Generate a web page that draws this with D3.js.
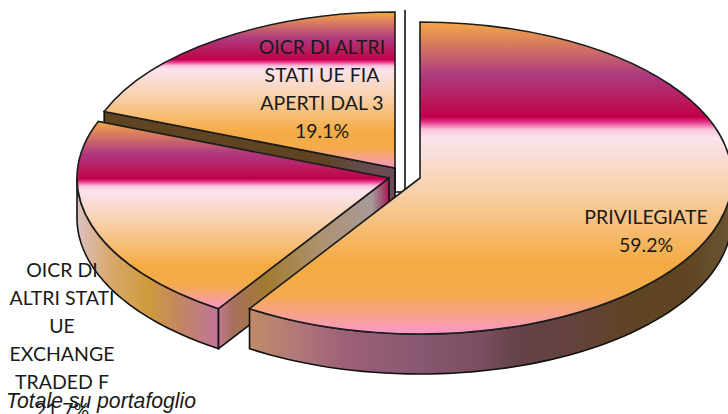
<!DOCTYPE html>
<html>
<head>
<meta charset="utf-8">
<script src="https://cdn.jsdelivr.net/npm/d3@7"></script>
<style>
  html, body { margin: 0; padding: 0; background: #fff; overflow: hidden; }
  svg { display: block; }
  .lbl { font-family: Lato, sans-serif; font-size: 19.5px; fill: #1a1a1a; text-anchor: middle; }
  .note { font-family: "Liberation Sans", Arial, sans-serif; font-style: italic; font-size: 21.2px; fill: #1a1a1a; }
</style>
</head>
<body>
<div id="viz"></div>
<script>
// values, clockwise from 12 o'clock
const categories = ['PRIVILEGIATE', 'OICR DI ALTRI STATI UE EXCHANGE TRADED F', 'OICR DI ALTRI STATI UE FIA APERTI DAL 3'];
const shares = [59.2, 21.7, 19.1];
const labelLines = [
  ['PRIVILEGIATE'],
  ['OICR DI', 'ALTRI STATI', 'UE', 'EXCHANGE', 'TRADED F'],
  ['OICR DI ALTRI', 'STATI UE FIA', 'APERTI DAL 3']
];
const footnote = 'Totale su portafoglio';

const width = 728;
const height = 414;
const rx = 312;
const ry = 156;
const depth = 40;
const lineH = 27.9;

// where each exploded slice sits + where its label goes
const centers = [{x: 420, y: 178}, {x: 389, y: 178}, {x: 395, y: 168}];
const labelPos = [{x: 646, y: 224}, {x: 62, y: 277}, {x: 322, y: 54}];

const topStops = [
  [0, '#f4a946'], [0.17, '#ad3a80'], [0.24, '#b81f62'], [0.305, '#c00048'], [0.32, '#e83088'],
  [0.345, '#fbc4de'], [0.37, '#fae4ee'], [0.55, '#f8cfa6'], [0.77, '#f4ab44'], [0.87, '#f4ab4a'], [1, '#f998c8']
];
const mainWallStops = [
  [0, '#c08a68'], [0.1, '#b07878'], [0.2, '#9c6078'], [0.35, '#885870'], [0.48, '#7a4e60'],
  [0.56, '#634248'], [0.66, '#654240'], [0.8, '#5e4422'], [0.9, '#5e4420'], [1, '#6c5434']
];
const leftWallStops = [
  [0, '#dcc0c4'], [0.22, '#d8aa70'], [0.5, '#cf9a3c'], [0.75, '#c28468'], [1, '#c07498']
];
const cutWallStops = [
  [0, '#c07a90'], [0.08, '#a87060'], [0.28, '#a27a30'], [0.6, '#ae9270'], [0.9, '#a89a9a'], [0.96, '#a05070'], [1, '#b01058']
];
const backWallStops = [
  [0, '#5e4420'], [0.76, '#5e4422'], [0.86, '#644a48'], [1, '#6c4c58']
];

const svg = d3.select('#viz').append('svg')
  .attr('width', width)
  .attr('height', height)
  .attr('viewBox', [0, 0, width, height]);

const defs = svg.append('defs');
function addGradient(id, stops, horizontal) {
  const g = defs.append('linearGradient')
    .attr('id', id)
    .attr('x1', 0).attr('y1', 0)
    .attr('x2', horizontal ? 1 : 0).attr('y2', horizontal ? 0 : 1);
  g.selectAll('stop').data(stops).join('stop')
    .attr('offset', d => d[0])
    .attr('stop-color', d => d[1]);
}
addGradient('topGrad', topStops, false);
addGradient('mainWall', mainWallStops, true);
addGradient('leftWall', leftWallStops, true);
addGradient('cutWall', cutWallStops, true);
addGradient('backWall', backWallStops, true);

const slices = d3.pie().sort(null)(shares);
const arc = d3.arc().innerRadius(0).outerRadius(rx);

const rim = (c, a, drop = 0) => [c.x + rx * Math.sin(a), c.y - ry * Math.cos(a) + drop];
const line = d3.line();

// outer wall between two angles, top rim then bottom rim backwards
function outerWall(c, a0, a1) {
  const angles = d3.range(0, 61).map(i => a0 + (a1 - a0) * i / 60);
  const pts = angles.map(a => rim(c, a)).concat(angles.slice().reverse().map(a => rim(c, a, depth)));
  return line(pts) + 'Z';
}
// flat wall along a cut edge
function cutWall(c, a) {
  return line([[c.x, c.y], rim(c, a), rim(c, a, depth), [c.x, c.y + depth]]) + 'Z';
}

function drawTop(i) {
  svg.append('path')
    .attr('d', arc(slices[i]))
    .attr('transform', `translate(${centers[i].x},${centers[i].y}) scale(1,${ry / rx})`)
    .attr('fill', 'url(#topGrad)')
    .attr('stroke', '#1c1c1c')
    .attr('stroke-width', 1.6)
    .attr('stroke-linejoin', 'miter')
    .attr('vector-effect', 'non-scaling-stroke');
}
function drawWall(d, fill) {
  svg.append('path')
    .attr('d', d)
    .attr('fill', fill)
    .attr('stroke', '#111')
    .attr('stroke-width', 1.6);
}

// back slice
drawWall(cutWall(centers[2], slices[2].startAngle), 'url(#backWall)');
drawTop(2);

// the thin white sliver behind the gap
svg.append('path')
  .attr('d', line([[centers[2].x, centers[2].y], [centers[2].x, centers[2].y + depth - 16], [centers[2].x + 10, centers[2].y + depth - 16], [centers[2].x + 10, centers[2].y - ry - 2]]))
  .attr('fill', 'none')
  .attr('stroke', '#111')
  .attr('stroke-width', 1.6);

// left slice
drawWall(outerWall(centers[1], slices[1].startAngle, 1.5 * Math.PI), 'url(#leftWall)');
drawWall(cutWall(centers[1], slices[1].startAngle), 'url(#cutWall)');
drawTop(1);

// big slice
drawWall(outerWall(centers[0], Math.PI / 2, slices[0].endAngle), 'url(#mainWall)');
drawTop(0);

// labels sit on top of everything
slices.forEach((s, i) => {
  const lines = labelLines[i].concat(d3.format('.1f')(shares[i]) + '%');
  svg.append('text')
    .attr('class', 'lbl')
    .attr('aria-label', categories[i])
    .selectAll('tspan').data(lines).join('tspan')
    .attr('x', labelPos[i].x)
    .attr('y', (d, j) => labelPos[i].y + j * lineH)
    .text(d => d);
});

svg.append('text')
  .attr('class', 'note')
  .attr('x', 6)
  .attr('y', 408)
  .text(footnote);
</script>
</body>
</html>
